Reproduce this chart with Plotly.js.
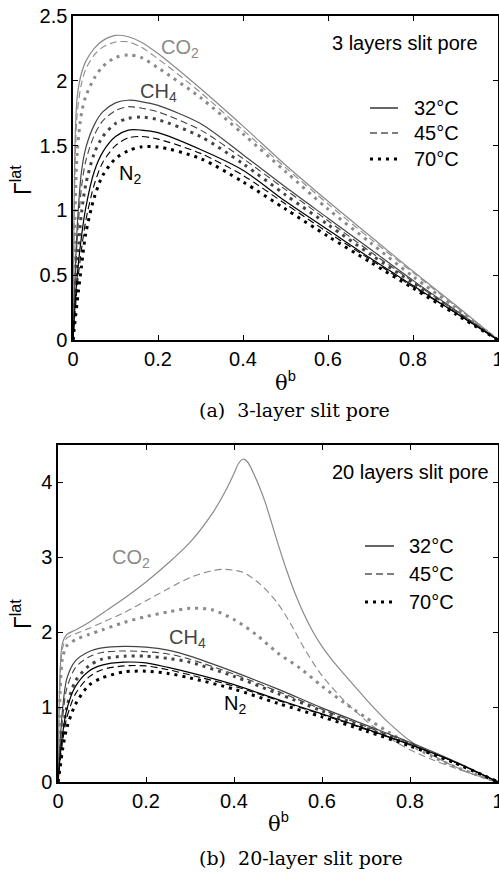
<!DOCTYPE html>
<html>
<head>
<meta charset="utf-8">
<script src="https://cdn.plot.ly/plotly-3.0.1.min.js"></script>
<style>html,body{margin:0;padding:0;background:#fff;}#plot{width:499px;height:873px;}</style>
</head>
<body>
<div id="plot"></div>
<script>
// ---------- Data: panel (a) 3-layer slit pore ----------
const thetaA = [0, 0.005, 0.01, 0.02, 0.03, 0.05, 0.07, 0.1, 0.13, 0.16, 0.2, 0.3, 0.4, 0.5, 0.6, 0.7, 0.8, 0.9, 1.0];
const a_CO2_32 = [0, 1.55, 1.88, 2.06, 2.15, 2.25, 2.31, 2.35, 2.34, 2.30, 2.21, 1.94, 1.65, 1.35, 1.07, 0.80, 0.53, 0.27, 0];
const a_CO2_45 = [0, 1.35, 1.75, 1.98, 2.09, 2.20, 2.26, 2.30, 2.30, 2.26, 2.17, 1.91, 1.62, 1.33, 1.05, 0.78, 0.52, 0.26, 0];
const a_CO2_70 = [0, 1.00, 1.45, 1.75, 1.88, 2.02, 2.11, 2.18, 2.20, 2.18, 2.10, 1.87, 1.59, 1.30, 1.01, 0.75, 0.49, 0.25, 0];
const a_CH4_32 = [0, 0.50, 0.88, 1.30, 1.48, 1.66, 1.76, 1.83, 1.85, 1.84, 1.81, 1.67, 1.43, 1.18, 0.94, 0.70, 0.46, 0.23, 0];
const a_CH4_45 = [0, 0.42, 0.78, 1.18, 1.38, 1.58, 1.69, 1.77, 1.80, 1.79, 1.76, 1.62, 1.40, 1.16, 0.92, 0.68, 0.45, 0.22, 0];
const a_CH4_70 = [0, 0.30, 0.60, 0.98, 1.20, 1.44, 1.57, 1.67, 1.71, 1.72, 1.70, 1.57, 1.36, 1.12, 0.89, 0.66, 0.44, 0.22, 0];
const a_N2_32  = [0, 0.28, 0.50, 0.80, 1.02, 1.30, 1.45, 1.57, 1.62, 1.62, 1.60, 1.47, 1.31, 1.07, 0.85, 0.63, 0.42, 0.21, 0];
const a_N2_45  = [0, 0.22, 0.42, 0.70, 0.92, 1.20, 1.37, 1.50, 1.56, 1.57, 1.55, 1.44, 1.27, 1.05, 0.83, 0.62, 0.41, 0.21, 0];
const a_N2_70  = [0, 0.15, 0.30, 0.57, 0.82, 1.10, 1.27, 1.40, 1.46, 1.49, 1.49, 1.40, 1.22, 1.01, 0.80, 0.60, 0.40, 0.20, 0];

// ---------- Data: panel (b) 20-layer slit pore ----------
const thetaB_CO2_32 = [0, 0.005, 0.01, 0.02, 0.04, 0.07, 0.1, 0.15, 0.2, 0.25, 0.3, 0.35, 0.38, 0.40, 0.41, 0.42, 0.43, 0.45, 0.47, 0.5, 0.52, 0.54, 0.56, 0.58, 0.6, 0.62, 0.65, 0.68, 0.71, 0.75, 0.8, 0.85, 0.9, 0.95, 1.0];
const b_CO2_32 = [0, 1.50, 1.85, 1.97, 2.03, 2.13, 2.25, 2.45, 2.67, 2.92, 3.20, 3.58, 3.88, 4.12, 4.25, 4.31, 4.28, 4.05, 3.75, 3.18, 2.82, 2.50, 2.23, 2.00, 1.81, 1.65, 1.44, 1.24, 1.04, 0.80, 0.55, 0.36, 0.21, 0.09, 0];
const thetaB_CO2_45 = [0, 0.005, 0.01, 0.02, 0.04, 0.07, 0.1, 0.15, 0.2, 0.25, 0.3, 0.35, 0.38, 0.42, 0.46, 0.5, 0.53, 0.56, 0.6, 0.65, 0.7, 0.75, 0.8, 0.85, 0.9, 0.95, 1.0];
const b_CO2_45 = [0, 1.40, 1.78, 1.92, 1.98, 2.05, 2.13, 2.26, 2.42, 2.58, 2.73, 2.82, 2.84, 2.80, 2.64, 2.38, 2.10, 1.78, 1.42, 1.09, 0.82, 0.60, 0.43, 0.30, 0.19, 0.09, 0];
const thetaB_CO2_70 = [0, 0.005, 0.01, 0.02, 0.04, 0.07, 0.1, 0.15, 0.2, 0.25, 0.3, 0.35, 0.4, 0.45, 0.5, 0.55, 0.6, 0.65, 0.7, 0.75, 0.8, 0.85, 0.9, 0.95, 1.0];
const b_CO2_70 = [0, 1.20, 1.65, 1.82, 1.90, 1.97, 2.03, 2.13, 2.21, 2.27, 2.32, 2.30, 2.17, 1.97, 1.72, 1.52, 1.28, 1.06, 0.86, 0.67, 0.50, 0.34, 0.21, 0.10, 0];
const thetaB = [0, 0.005, 0.01, 0.02, 0.04, 0.07, 0.1, 0.15, 0.2, 0.25, 0.3, 0.4, 0.5, 0.6, 0.7, 0.8, 0.9, 1.0];
const b_CH4_32 = [0, 0.55, 0.95, 1.38, 1.62, 1.74, 1.79, 1.81, 1.80, 1.76, 1.68, 1.47, 1.24, 0.99, 0.76, 0.53, 0.28, 0];
const b_CH4_45 = [0, 0.45, 0.82, 1.25, 1.53, 1.67, 1.73, 1.75, 1.74, 1.71, 1.64, 1.44, 1.21, 0.97, 0.74, 0.52, 0.27, 0];
const b_CH4_70 = [0, 0.30, 0.60, 1.00, 1.35, 1.55, 1.64, 1.68, 1.68, 1.65, 1.60, 1.41, 1.18, 0.95, 0.72, 0.50, 0.26, 0];
const b_N2_32  = [0, 0.35, 0.62, 0.97, 1.28, 1.48, 1.56, 1.60, 1.59, 1.53, 1.46, 1.30, 1.10, 0.91, 0.71, 0.50, 0.27, 0];
const b_N2_45  = [0, 0.28, 0.52, 0.86, 1.18, 1.40, 1.50, 1.55, 1.55, 1.50, 1.43, 1.28, 1.09, 0.90, 0.70, 0.50, 0.27, 0];
const b_N2_70  = [0, 0.20, 0.42, 0.72, 1.04, 1.29, 1.39, 1.47, 1.48, 1.45, 1.39, 1.24, 1.05, 0.87, 0.68, 0.48, 0.26, 0];

// ---------- Labels ----------
const temps = ['32°C', '45°C', '70°C'];
const species = ['CO<sub>2</sub>', 'CH<sub>4</sub>', 'N<sub>2</sub>'];
const xTickVals = [0, 0.2, 0.4, 0.6, 0.8, 1];
const xTickText = ['0', '0.2', '0.4', '0.6', '0.8', '1'];
const yTickValsA = [0, 0.5, 1, 1.5, 2, 2.5];
const yTickTextA = ['0', '0.5', '1', '1.5', '2', '2.5'];
const yTickValsB = [0, 1, 2, 3, 4];
const yTickTextB = ['0', '1', '2', '3', '4'];
const panelTitles = ['3 layers slit pore', '20 layers slit pore'];
const captions = ['(a)  3-layer slit pore', '(b)  20-layer slit pore'];

// ---------- Styles ----------
const SANS = 'Liberation Sans, Arial, Helvetica, sans-serif';
const SERIF = 'DejaVu Serif, Liberation Serif, serif';
const colors = {CO2: '#8a8a8a', CH4: '#444444', N2: '#000000'};
const lineStyles = [
  {dash: 'solid', width: 1.2},
  {dash: '7px,4px', width: 1.1},
  {dash: '3px,5px', width: 3}
];

function tr(x, y, sp, ti, xa, ya) {
  return {
    x: x, y: y, xaxis: xa, yaxis: ya, type: 'scatter', mode: 'lines',
    line: {color: colors[sp], width: lineStyles[ti].width, dash: lineStyles[ti].dash, shape: 'spline', smoothing: 0.8},
    name: sp + ' ' + temps[ti], showlegend: false, hoverinfo: 'skip'
  };
}

const data = [
  tr(thetaA, a_CO2_32, 'CO2', 0, 'x', 'y'),
  tr(thetaA, a_CO2_45, 'CO2', 1, 'x', 'y'),
  tr(thetaA, a_CO2_70, 'CO2', 2, 'x', 'y'),
  tr(thetaA, a_CH4_32, 'CH4', 0, 'x', 'y'),
  tr(thetaA, a_CH4_45, 'CH4', 1, 'x', 'y'),
  tr(thetaA, a_CH4_70, 'CH4', 2, 'x', 'y'),
  tr(thetaA, a_N2_32, 'N2', 0, 'x', 'y'),
  tr(thetaA, a_N2_45, 'N2', 1, 'x', 'y'),
  tr(thetaA, a_N2_70, 'N2', 2, 'x', 'y'),
  tr(thetaB_CO2_32, b_CO2_32, 'CO2', 0, 'x2', 'y2'),
  tr(thetaB_CO2_45, b_CO2_45, 'CO2', 1, 'x2', 'y2'),
  tr(thetaB_CO2_70, b_CO2_70, 'CO2', 2, 'x2', 'y2'),
  tr(thetaB, b_CH4_32, 'CH4', 0, 'x2', 'y2'),
  tr(thetaB, b_CH4_45, 'CH4', 1, 'x2', 'y2'),
  tr(thetaB, b_CH4_70, 'CH4', 2, 'x2', 'y2'),
  tr(thetaB, b_N2_32, 'N2', 0, 'x2', 'y2'),
  tr(thetaB, b_N2_45, 'N2', 1, 'x2', 'y2'),
  tr(thetaB, b_N2_70, 'N2', 2, 'x2', 'y2')
];

const W = 499, H = 873;
const px = v => v / W;
const py = v => 1 - v / H;

function xAxis(domain, anchor) {
  return {domain: domain, anchor: anchor, range: [0, 1], showline: true, mirror: 'ticks', linewidth: 1.6, linecolor: '#000',
    ticks: 'inside', ticklen: 5, tickwidth: 1, tickcolor: '#000', tickvals: xTickVals, ticktext: xTickText,
    ticklabeloverflow: 'allow',
    showgrid: false, zeroline: false, tickfont: {family: SANS, size: 20, color: '#000'}, fixedrange: true};
}
function yAxis(domain, anchor, range, tv, tt) {
  return {domain: domain, anchor: anchor, range: range, showline: true, mirror: 'ticks', linewidth: 1.6, linecolor: '#000',
    ticks: 'inside', ticklen: 5, tickwidth: 1, tickcolor: '#000', tickvals: tv, ticktext: tt,
    ticklabeloverflow: 'allow',
    showgrid: false, zeroline: false, tickfont: {family: SANS, size: 20, color: '#000'}, fixedrange: true};
}

function ann(text, x, y, xref, yref, opts) {
  return Object.assign({text: text, x: x, y: y, xref: xref, yref: yref, showarrow: false,
    xanchor: 'left', yanchor: 'middle', font: {family: SANS, size: 20, color: '#000'}}, opts || {});
}

const annotations = [
  ann(panelTitles[0], px(480), py(43), 'paper', 'paper', {xanchor: 'right'}),
  ann(panelTitles[1], px(491), py(472), 'paper', 'paper', {xanchor: 'right'}),
  // species labels (data coordinates)
  ann(species[0], 0.202, 2.25, 'x', 'y', {font: {family: SANS, size: 20, color: colors.CO2}}),
  ann(species[1], 0.153, 1.91, 'x', 'y', {font: {family: SANS, size: 20, color: colors.CH4}}),
  ann(species[2], 0.104, 1.28, 'x', 'y', {font: {family: SANS, size: 20, color: colors.N2}}),
  ann(species[0], 0.118, 2.99, 'x2', 'y2', {font: {family: SANS, size: 20, color: colors.CO2}}),
  ann(species[1], 0.247, 1.92, 'x2', 'y2', {font: {family: SANS, size: 20, color: colors.CH4}}),
  ann(species[2], 0.373, 1.03, 'x2', 'y2', {font: {family: SANS, size: 20, color: colors.N2}}),
  // axis titles
  ann('Γ<sup>lat</sup>', px(21), py(180), 'paper', 'paper', {xanchor: 'center', textangle: -90, font: {family: SANS, size: 23, color: '#000'}}),
  ann('Γ<sup>lat</sup>', px(21), py(614), 'paper', 'paper', {xanchor: 'center', textangle: -90, font: {family: SANS, size: 23, color: '#000'}}),
  ann('<span style="font-family:DejaVu Serif">θ</span><sup>b</sup>', px(285), py(381), 'paper', 'paper', {xanchor: 'center', font: {family: SANS, size: 21, color: '#000'}}),
  ann('<span style="font-family:DejaVu Serif">θ</span><sup>b</sup>', px(278), py(822), 'paper', 'paper', {xanchor: 'center', font: {family: SANS, size: 21, color: '#000'}}),
  // captions
  ann(captions[0], px(197), py(410), 'paper', 'paper', {font: {family: SERIF, size: 19, color: '#000'}}),
  ann(captions[1], px(197), py(858), 'paper', 'paper', {font: {family: SERIF, size: 19, color: '#000'}})
];

// ---------- Legends (temperature line styles, one per panel) ----------
const legendRows = [
  {lineX: [370, 398], textX: 412, rows: [108, 133, 159]},
  {lineX: [365, 394], textX: 407, rows: [546, 574, 602]}
];
const shapes = [];
legendRows.forEach(function (lg) {
  lg.rows.forEach(function (ry, i) {
    shapes.push({type: 'line', xref: 'paper', yref: 'paper', x0: px(lg.lineX[0]), x1: px(lg.lineX[1]), y0: py(ry), y1: py(ry),
      line: {color: '#000', width: lineStyles[i].width, dash: lineStyles[i].dash}});
    annotations.push(ann(temps[i], px(lg.textX), py(ry), 'paper', 'paper'));
  });
});

const layout = {
  width: W, height: H, margin: {l: 0, r: 0, t: 0, b: 0, pad: 0},
  paper_bgcolor: '#fff', plot_bgcolor: '#fff', showlegend: false,
  xaxis: xAxis([px(73), px(498)], 'y'),
  yaxis: yAxis([py(340), py(16)], 'x', [0, 2.5], yTickValsA, yTickTextA),
  xaxis2: xAxis([px(58), px(498)], 'y2'),
  yaxis2: yAxis([py(782), py(445)], 'x2', [0, 4.5], yTickValsB, yTickTextB),
  annotations: annotations,
  shapes: shapes
};

Plotly.newPlot('plot', data, layout, {staticPlot: true, displayModeBar: false});
</script>
</body>
</html>
